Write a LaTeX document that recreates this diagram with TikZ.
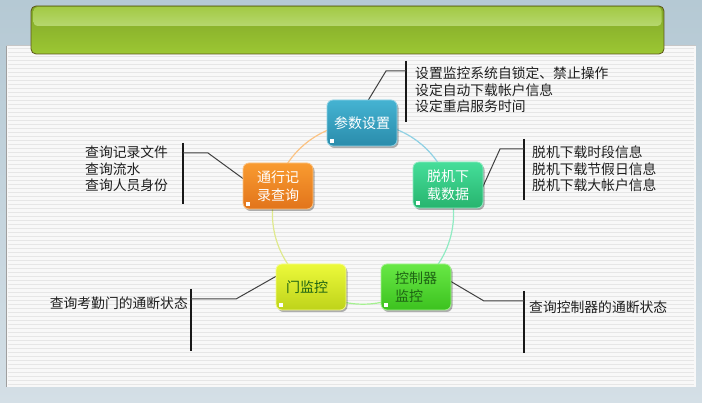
\documentclass[tikz,border=0pt]{standalone}
\usepackage{fontspec}
\newfontfamily\cjk{Noto Sans CJK SC}
\usetikzlibrary{shadows,calc}
\pgfdeclarelayer{bg}\pgfdeclarelayer{mid}\pgfsetlayers{bg,mid,main}
\definecolor{bgtop}{HTML}{B5C9D4}
\definecolor{bgbot}{HTML}{D4DFE6}
\definecolor{paperc}{HTML}{F8F8F8}
\definecolor{stripec}{HTML}{E6E6E6}
\definecolor{barline}{HTML}{5C5418}
\definecolor{gtop}{HTML}{80A628}
\definecolor{gbot}{HTML}{9CC733}
\definecolor{hltop}{HTML}{A3CA45}
\definecolor{hlbot}{HTML}{B6D76E}
\definecolor{blueA}{HTML}{45B3D2}
\definecolor{blueB}{HTML}{2A8CAB}
\definecolor{oraA}{HTML}{F99B30}
\definecolor{oraB}{HTML}{E2741B}
\definecolor{tealA}{HTML}{45DE9A}
\definecolor{tealB}{HTML}{27B46E}
\definecolor{yelA}{HTML}{ECF93A}
\definecolor{yelB}{HTML}{BED31A}
\definecolor{grnA}{HTML}{68E845}
\definecolor{grnB}{HTML}{3CC21F}
\definecolor{dkgreen}{HTML}{1E6414}
\definecolor{txt}{HTML}{1E1E1E}
\definecolor{connc}{HTML}{404040}
\tikzset{
  mbox/.style={rectangle, rounded corners=6pt, minimum width=70pt, minimum height=46pt,
    inner sep=2pt, align=left, font=\cjk\fontsize{14}{17.5}\selectfont,
    line width=0.8pt,
    drop shadow={shadow xshift=1.5pt, shadow yshift=-2pt, opacity=0.3, fill=black}},
  calltext/.style={inner sep=0pt, align=left, text=txt, font=\cjk\fontsize{13.8}{16.5}\selectfont},
  conn/.style={draw=connc, line width=1pt},
  vbar/.style={draw=black!90, line width=1.2pt},
  ring/.style={line width=1.2pt},
  stripe/.style={draw=stripec, line width=1pt},
}
\begin{document}
\begin{tikzpicture}[x=1pt,y=-1pt]
\useasboundingbox (0,0) rectangle (702,403);
\begin{pgfonlayer}{bg}
  \node[rectangle, inner sep=0pt, minimum width=702pt, minimum height=403pt,
        top color=bgtop, bottom color=bgbot, anchor=north west] (bgd) at (0,0) {};
  \node[rectangle, inner sep=0pt, minimum width=689pt, minimum height=341pt,
        fill=paperc] (paper) at (351.5,216.5) {};
  \foreach \yy in {49,53,...,385} \draw[stripe] (8,\yy) -- (694,\yy);
  \draw[gray!75, line width=1.3pt] (paper.north west) -- (paper.south west);
  \draw[gray!45, line width=0.8pt] (paper.north west) -- (paper.north east);
  \node[rectangle, rounded corners=5pt, inner sep=0pt, minimum width=633pt, minimum height=48pt,
        top color=gtop, bottom color=gbot, draw=barline, line width=0.8pt] (gbar) at (347.5,30) {};
  \node[rectangle, rounded corners=4pt, inner sep=0pt, minimum width=628pt, minimum height=19pt,
        top color=hltop, bottom color=hlbot] (ghl) at (347.5,16.5) {};
\end{pgfonlayer}

% ring nodes
\node[mbox, top color=blueA, bottom color=blueB, draw=blueA!60!white, text=white] (n1) at (362,123) {参数设置};
\node[mbox, top color=tealA, bottom color=tealB, draw=tealA!60!white, text=white] (n2) at (448,185) {脱机下\\载数据};
\node[mbox, top color=grnA, bottom color=grnB, draw=grnA!60!white, text=dkgreen] (n3) at (416,287) {控制器\\监控};
\node[mbox, top color=yelA, bottom color=yelB, draw=yelA!60!white, text=dkgreen, inner xsep=0pt] (n4) at (311,287) {门监控\hspace*{8pt}};
\node[mbox, top color=oraA, bottom color=oraB, draw=oraA!60!white, text=white] (n5) at (278,186) {通行记\\录查询};
\foreach \n in {n1,n2,n3,n4,n5}
  \fill[white] ($(\n.south west)+(3,-3)$) rectangle ++(4,-4);

\coordinate (ctr) at (363,213.6);
\begin{pgfonlayer}{mid}
  \draw[ring, draw=blueA!60!white] (ctr) ++(270:90.6) arc[start angle=270, end angle=342, radius=90.6];
  \draw[ring, draw=tealA!60!white] (ctr) ++(342:90.6) arc[start angle=342, end angle=414, radius=90.6];
  \draw[ring, draw=grnA!60!white] (ctr) ++(54:90.6) arc[start angle=54, end angle=126, radius=90.6];
  \draw[ring, draw=yelB!50!white] (ctr) ++(126:90.6) arc[start angle=126, end angle=198, radius=90.6];
  \draw[ring, draw=oraA!60!white] (ctr) ++(198:90.6) arc[start angle=198, end angle=270, radius=90.6];

  % top callout
  \coordinate (b1t) at (406,61); \coordinate (b1b) at (406,122);
  \coordinate (k1) at (386,71); \coordinate (h1) at (406,71);
  \draw[vbar] (b1t) -- (b1b);
  \draw[conn] ($(n1.north)+(6,1)$) -- (k1) -- (h1);
  % right callout
  \coordinate (b2t) at (524,139); \coordinate (b2b) at (524,200);
  \coordinate (k2) at (500,149); \coordinate (h2) at (524,149);
  \draw[vbar] (b2t) -- (b2b);
  \draw[conn] ($(n2.east)+(-2,5)$) -- (k2) -- (h2);
  % left callout
  \coordinate (b5t) at (183,143); \coordinate (b5b) at (183,204);
  \coordinate (k5) at (208,153); \coordinate (h5) at (183,153);
  \draw[vbar] (b5t) -- (b5b);
  \draw[conn] (h5) -- (k5) -- ($(n5.west)+(1,-7)$);
  % bottom-left callout
  \coordinate (b4t) at (191,289); \coordinate (b4b) at (191,351);
  \coordinate (k4) at (236,299); \coordinate (h4) at (191,299);
  \draw[vbar] (b4t) -- (b4b);
  \draw[conn] (h4) -- (k4) -- ($(n4.west)+(1,-11)$);
  % bottom-right callout
  \coordinate (b3t) at (524,291); \coordinate (b3b) at (524,353);
  \coordinate (k3) at (484,301); \coordinate (h3) at (524,301);
  \draw[vbar] (b3t) -- (b3b);
  \draw[conn] ($(n3.east)+(-3,-7)$) -- (k3) -- (h3);
\end{pgfonlayer}

\node[calltext, anchor=west] (t1) at (415,90) {设置监控系统自锁定、禁止操作\\设定自动下载帐户信息\\设定重启服务时间};
\node[calltext, anchor=west] (t2) at (532,169) {脱机下载时段信息\\脱机下载节假日信息\\脱机下载大帐户信息};
\node[calltext, anchor=west] (t5) at (85,169) {查询记录文件\\查询流水\\查询人员身份};
\node[calltext, anchor=east] (t4) at (188,303) {查询考勤门的通断状态};
\node[calltext, anchor=west] (t3) at (529,307) {查询控制器的通断状态};
\end{tikzpicture}
\end{document}
